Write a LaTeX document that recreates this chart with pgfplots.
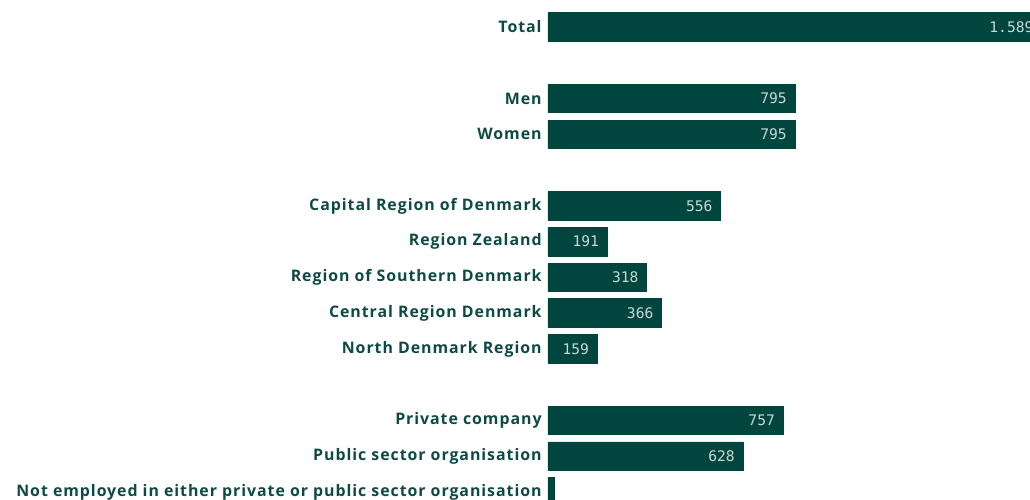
\documentclass[border=0pt]{standalone}
\usepackage{fontspec}
\setmainfont{Open Sans}[LetterSpace=6]
\newfontfamily\valfont{DejaVu Sans Mono}
\usepackage{pgfplots}
\usepackage{pgfplotstable}
\pgfplotsset{compat=1.18}
\definecolor{barc}{HTML}{00463F}
\definecolor{txtc}{HTML}{0E4A45}
\definecolor{valc}{HTML}{C9D8D5}
\pgfplotstableread{
y x lab
0 1589 1.589
2 795 795
3 795 795
5 556 556
6 191 191
7 318 318
8 366 366
9 159 159
11 757 757
12 628 628
13 20 {}
}\datatab
\begin{document}
\begin{tikzpicture}
\path[use as bounding box, clip] (0,0) rectangle (515pt,-249.5pt);
\begin{axis}[
  at={(274pt,-4.55pt)}, anchor=north west,
  scale only axis, width=241pt, height=250.4pt,
  xmin=0, xmax=1551, ymin=-0.5, ymax=13.5,
  clip=false,
  y dir=reverse,
  xbar, bar width=0.8,
  axis line style={draw=none},
  xtick=\empty,
  ytick={0,2,3,5,6,7,8,9,11,12,13},
  yticklabels={Total,Men,Women,Capital Region of Denmark,Region Zealand,Region of Southern Denmark,Central Region Denmark,North Denmark Region,Private company,Public sector organisation,Not employed in either private or public sector organisation},
  major tick length=0pt,
  yticklabel style={font=\fontsize{7.95pt}{9pt}\selectfont\bfseries, text=txtc, inner sep=0pt, xshift=-3pt},
  point meta=explicit symbolic,
  nodes near coords,
  every node near coord/.append style={anchor=east, inner sep=0pt, xshift=-4pt, font=\valfont\fontsize{7.3pt}{8pt}\selectfont, text=valc},
]
\addplot[fill=barc, draw=barc] table[x=x, y=y, meta=lab] {\datatab};
\end{axis}
\end{tikzpicture}
\end{document}
